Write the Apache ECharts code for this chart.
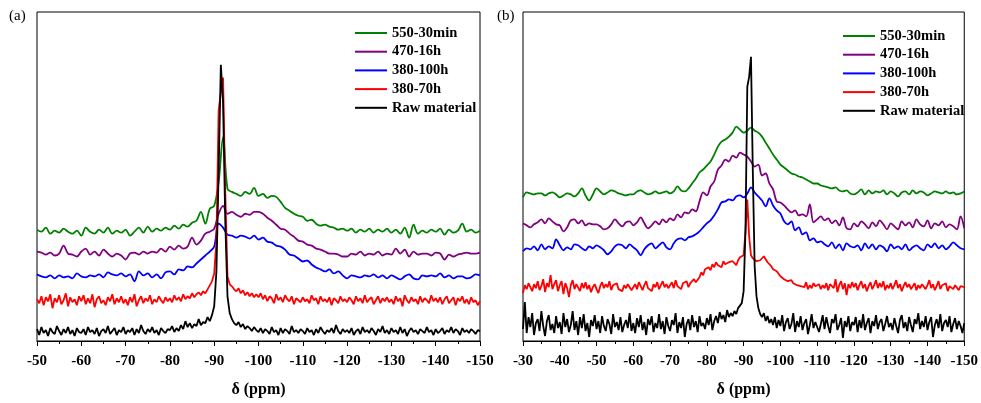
<!DOCTYPE html>
<html>
<head>
<meta charset="utf-8">
<script src="https://cdn.jsdelivr.net/npm/echarts@6/dist/echarts.min.js"></script>
<style>
  html, body { margin: 0; padding: 0; background: #fff; }
  #chart { width: 981px; height: 403px; }
</style>
</head>
<body>
<div id="chart"></div>
<script>
// 29Si MAS NMR spectra, stacked with vertical offsets (arbitrary intensity units)
const seriesNames = ['550-30min', '470-16h', '380-100h', '380-70h', 'Raw material'];
const seriesColors = ['#008000', '#800080', '#0000ff', '#ff0000', '#000000'];

// chemical-shift tick labels (ppm)
const ticksA = [-50, -60, -70, -80, -90, -100, -110, -120, -130, -140, -150];
const ticksB = [-30, -40, -50, -60, -70, -80, -90, -100, -110, -120, -130, -140, -150];

// sampling grids: first shift and spacing (ppm) of each trace
const startA = -50, startB = -30;
const coarseStep = 1, fineStep = 0.5;

// ---- panel (a) ----
const greenA = [
  112,110,114,108,111,109,113,110,108,111,
  106,114,110,108,112,109,114,108,111,109,
  112,106,110,114,109,115,110,113,111,114,
  112,116,113,117,115,119,121,130,118,133,
  136,160,205,153,150,148,146,150,148,154,
  146,148,144,146,145,140,134,131,128,126,
  125,121,122,118,116,117,115,114,112,113,
  111,113,109,112,110,113,109,112,110,113,
  109,112,108,114,104,117,108,111,109,112,
  110,113,107,112,109,111,118,110,112,109,
  111
];
const purpleA = [
  90,89,87,89,86,88,96,88,87,85,
  90,93,87,90,86,92,88,85,88,86,
  82,88,89,87,90,88,90,89,93,90,
  95,92,96,93,95,104,97,101,108,110,
  113,128,136,128,130,127,125,128,127,130,
  130,128,124,121,117,113,112,108,105,101,
  100,97,96,93,92,90,88,88,87,85,
  85,88,87,90,86,88,87,90,86,88,
  87,93,88,92,85,90,87,88,88,86,
  89,88,82,87,85,87,88,89,88,88,
  89
];
const blueA = [
  67,65,64,66,63,66,64,65,63,68,
  65,64,66,65,67,64,69,67,66,68,
  65,67,60,70,66,68,64,67,63,69,
  70,67,72,71,75,74,78,82,86,90,
  95,118,114,107,106,104,106,105,103,106,
  102,104,100,99,96,95,92,87,86,83,
  80,81,77,74,72,70,72,68,70,66,
  63,66,65,64,66,65,67,64,66,63,
  66,64,62,65,67,63,62,66,65,66,
  65,68,64,66,63,65,65,63,64,67,
  66
];
const redA = [
  42,38,45,36,44,40,47,33,43,39,46,37,41,48,35,44,39,42,36,45,
  40,46,37,43,38,47,34,42,45,38,41,36,44,40,47,37,43,39,45,38,
  42,36,44,39,47,35,41,45,38,43,40,46,37,42,39,45,41,38,44,40,
  43,39,46,41,44,40,47,42,45,43,48,44,47,49,46,50,48,52,56,60,
  68,100,232,250,265,150,65,57,55,52,50,53,48,51,46,49,45,48,44,47,
  44,48,42,46,40,45,43,38,47,41,44,39,46,42,40,45,37,43,41,39,
  44,40,42,38,46,41,43,37,45,40,42,39,44,36,43,41,38,45,40,42,
  39,44,41,37,45,40,43,38,46,39,42,44,37,41,45,38,43,40,44,39,
  42,37,45,40,43,35,46,41,38,44,40,42,37,45,39,43,41,38,46,40,
  43,39,44,37,42,45,38,41,44,36,43,40,45,38,42,37,44,39,41,36,
  40
];
const blackA = [
  12,6,14,8,11,5,13,9,7,15,10,6,12,8,14,7,11,5,13,9,
  8,12,6,14,9,11,7,13,5,10,12,8,15,7,10,13,6,11,9,14,
  7,11,9,13,6,12,8,16,10,7,12,9,14,8,11,6,13,10,8,12,
  11,15,9,13,10,16,12,20,14,18,13,17,15,22,16,19,18,24,20,26,
  35,70,170,278,240,120,45,28,22,18,16,19,14,17,12,15,13,10,14,11,
  9,13,8,12,10,7,14,9,11,6,13,8,12,10,7,15,9,11,8,12,
  10,7,13,9,11,6,12,8,14,10,7,11,9,13,8,16,10,7,12,9,
  11,8,13,6,10,12,7,14,9,11,8,13,10,6,12,9,15,8,11,7,
  13,9,11,7,14,8,12,5,10,13,9,11,7,12,10,8,14,9,11,6,
  12,8,10,13,7,11,9,14,8,12,10,6,13,9,11,8,12,10,7,11,
  10
];

// ---- panel (b) ----
const greenB = [
  144,149,148,147,148,148,146,148,149,147,
  144,146,148,147,145,148,153,146,141,147,
  153,150,147,149,151,150,148,147,146,147,
  147,150,151,149,147,148,150,148,149,150,
  148,150,155,151,150,153,158,163,169,172,
  176,180,187,195,200,202,205,209,215,212,
  209,211,214,211,209,205,199,193,187,182,
  177,174,171,168,167,165,164,162,160,158,
  158,156,155,154,153,154,151,150,151,148,
  147,149,152,147,151,148,150,149,151,147,
  150,148,145,149,150,147,151,148,150,149,
  146,148,150,149,148,150,148,149,147,148,
  150
];
const purpleB = [
  118,116,114,117,119,122,118,123,120,117,
  116,110,114,121,122,118,121,116,118,117,
  117,115,112,113,117,122,118,115,119,120,
  116,119,124,118,113,116,120,117,122,119,
  123,121,127,124,129,128,132,130,140,149,
  146,155,160,172,176,182,180,186,184,189,
  187,185,180,175,177,166,168,158,152,140,
  139,136,132,129,131,126,127,125,137,119,
  122,125,121,123,118,121,116,124,113,112,
  118,115,120,117,113,119,115,121,117,112,
  118,115,112,120,116,119,114,122,117,115,
  121,113,118,116,120,114,117,115,112,125,
  113
];
const blueB = [
  90,93,92,95,91,97,92,95,93,102,
  96,91,94,92,97,96,93,91,95,93,
  96,94,91,87,90,95,97,96,93,97,
  94,91,86,92,96,98,93,96,99,94,
  92,98,102,103,101,104,105,107,110,114,
  118,121,126,132,139,140,142,141,145,146,
  144,148,154,149,145,141,135,143,136,131,
  128,120,117,120,111,114,107,109,101,103,
  99,100,97,95,99,93,97,91,98,95,
  94,96,91,98,93,97,92,96,94,90,
  97,93,95,92,97,91,94,96,93,91,
  97,94,98,93,96,92,95,99,96,93,
  92
];
const redB = [
  48,56,52,58,54,50,57,53,60,51,55,62,49,58,54,66,52,57,61,50,
  56,60,47,58,53,44,56,61,52,57,55,50,58,53,59,52,56,49,54,57,
  52,48,55,59,53,57,54,60,51,56,55,58,52,54,50,56,53,57,55,51,
  54,57,52,59,55,51,56,60,53,55,50,57,54,59,52,56,60,54,57,53,
  55,59,53,61,55,57,52,58,56,60,54,58,57,62,59,61,64,69,66,72,
  70,74,71,77,74,79,76,78,74,80,77,75,79,77,80,78,76,81,84,83,
  86,110,142,105,86,83,82,80,78,81,83,85,82,79,77,75,72,74,70,68,
  65,63,62,61,60,59,61,58,60,56,58,55,57,54,59,52,56,53,58,55,
  54,57,52,56,53,58,51,57,55,53,62,49,56,60,52,58,46,57,53,59,
  54,58,51,56,60,53,57,50,55,59,52,56,61,53,58,54,60,51,56,53,
  58,52,56,61,53,57,50,55,59,54,57,52,55,58,51,56,53,57,55,52,
  56,61,53,57,51,55,60,52,56,54,58,50,55,57,52,56,54,51,55,53,
  54
];
const blackB = [
  12,39,8,24,14,28,6,18,22,10,30,15,5,20,26,11,17,8,25,13,
  19,7,28,14,22,9,16,30,11,20,6,24,13,27,10,18,4,21,15,26,
  12,20,8,25,15,10,22,17,7,27,14,19,11,24,9,16,21,13,28,10,
  18,8,23,14,26,11,19,6,22,16,25,9,18,13,27,12,20,7,24,15,
  10,21,16,28,8,19,13,24,4,17,22,11,26,14,20,9,25,15,18,12,
  23,16,27,11,20,25,18,29,22,26,19,31,24,28,25,30,27,33,35,38,
  50,110,255,265,285,170,75,45,33,27,24,28,20,25,18,22,16,24,13,21,
  15,26,10,19,23,12,17,28,9,20,14,25,11,18,22,7,16,27,13,19,
  21,9,17,26,12,24,15,8,22,18,27,11,16,23,3,20,14,25,10,19,
  16,24,9,21,13,27,11,18,23,8,20,15,26,12,19,22,10,17,25,14,
  18,11,23,15,8,21,26,13,19,10,24,16,9,22,17,28,12,20,14,25,
  11,19,24,4,16,22,13,27,10,18,21,14,25,9,17,23,12,20,15,8,
  18
];

// pair each intensity with its chemical shift on the sampling grid
function withShift(values, start, step) {
  return values.map((v, i) => [start - i * step, v]);
}

const serifFont = "'Liberation Serif', 'DejaVu Serif', serif";

const panels = [
  { ticks: ticksA, start: startA, traces: [greenA, purpleA, blueA, redA, blackA],
    steps: [coarseStep, coarseStep, coarseStep, fineStep, fineStep],
    grid: { left: 37, top: 12, width: 443, height: 331 }, yMax: 331,
    legendPos: { left: 350, top: 20 }, tag: '(a)', tagPos: { left: 9, top: 9 } },
  { ticks: ticksB, start: startB, traces: [greenB, purpleB, blueB, redB, blackB],
    steps: [coarseStep, coarseStep, coarseStep, fineStep, fineStep],
    grid: { left: 523, top: 12, width: 442, height: 330 }, yMax: 330,
    legendPos: { left: 838, top: 23 }, tag: '(b)', tagPos: { left: 497, top: 9 } }
];

const option = {
  animation: false,
  backgroundColor: '#fff',
  grid: [], xAxis: [], yAxis: [], series: [], legend: [], graphic: []
};

panels.forEach((p, k) => {
  option.grid.push(Object.assign({ show: true, borderColor: '#000', borderWidth: 1,
    backgroundColor: 'transparent' }, p.grid));
  option.xAxis.push({
    type: 'value', gridIndex: k, inverse: true,
    min: Math.min(...p.ticks), max: Math.max(...p.ticks),
    interval: Math.abs(p.ticks[1] - p.ticks[0]),
    name: 'δ (ppm)', nameLocation: 'middle', nameGap: 41,
    nameTextStyle: { fontFamily: serifFont, fontWeight: 'bold', fontSize: 16, color: '#000' },
    axisLine: { show: true, lineStyle: { color: '#000', width: 1 } },
    axisTick: { show: true, inside: false, length: 5, lineStyle: { color: '#000', width: 1 } },
    minorTick: { show: true, splitNumber: 2, length: 3, lineStyle: { color: '#000', width: 1 } },
    axisLabel: { fontFamily: serifFont, fontWeight: 'bold', fontSize: 15, color: '#000', margin: 13 },
    splitLine: { show: false }, minorSplitLine: { show: false }
  });
  option.yAxis.push({
    type: 'value', gridIndex: k, min: 0, max: p.yMax,
    axisLine: { show: false }, axisTick: { show: false }, axisLabel: { show: false },
    splitLine: { show: false }
  });
  p.traces.forEach((vals, j) => {
    option.series.push({
      name: seriesNames[j], type: 'line', xAxisIndex: k, yAxisIndex: k,
      data: withShift(vals, p.start, p.steps[j]),
      symbol: 'none', showSymbol: false, clip: true,
      smooth: p.steps[j] === coarseStep ? 0.35 : false,
      lineStyle: { color: seriesColors[j], width: 1.8 },
      itemStyle: { color: seriesColors[j] }
    });
  });
  option.legend.push(Object.assign({
    data: seriesNames, orient: 'vertical', icon: 'rect',
    itemWidth: 32, itemHeight: 2, itemGap: 2.7, selectedMode: false,
    textStyle: { fontFamily: serifFont, fontWeight: 'bold', fontSize: 14.5, lineHeight: 16, color: '#000' }
  }, p.legendPos));
  option.graphic.push({
    type: 'text', left: p.tagPos.left, top: p.tagPos.top,
    style: { text: p.tag, font: '15px ' + serifFont, fill: '#000' }
  });
});

const chart = echarts.init(document.getElementById('chart'), null, { renderer: 'canvas' });
chart.setOption(option);
</script>
</body>
</html>
